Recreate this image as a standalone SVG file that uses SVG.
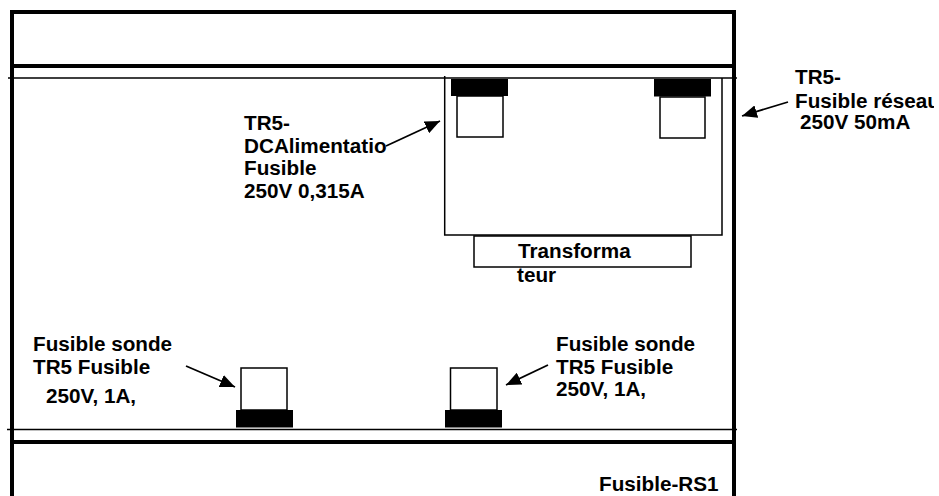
<svg xmlns="http://www.w3.org/2000/svg" width="939" height="496" viewBox="0 0 939 496">
<style>
.t{font-family:"Liberation Sans",Arial,sans-serif;font-weight:700;font-size:20.7px;fill:#000}
.thick{stroke:#000;stroke-width:4;fill:none}
.thin{stroke:#000;stroke-width:1.5;fill:none}
.box{stroke:#000;stroke-width:1.5;fill:#fff}
.arrow{stroke:#000;stroke-width:1.8;fill:none;marker-end:url(#a)}
</style>
<defs>
<marker id="a" viewBox="0 0 15 13" markerUnits="userSpaceOnUse" markerWidth="15" markerHeight="13" refX="15" refY="6.500" orient="auto"><path d="M0 0L15 6.500L0 13Z" fill="#000"/></marker>
<clipPath id="c"><rect x="780" y="60" width="154" height="80"/></clipPath>
</defs>
<rect width="939" height="496" fill="#fff"/>
<g id="frame">
<path class="thick" d="M12 496V12H734V496"/>
<path class="thick" d="M12 66H734M12 442H734"/>
<path class="thin" d="M8 78H737M7 429.500H737"/>
</g>
<g id="transformer">
<path class="thin" d="M444.700 76V235H722V78"/>
</g>
<g id="transformateur">
<rect class="box" x="474" y="236" width="217" height="31"/>
<text class="t" x="518" y="258">Transforma</text>
<text class="t" x="517" y="282">teur</text>
</g>
<g id="fuse-top-left">
<rect class="box" x="457" y="96" width="46" height="41"/>
<rect x="451" y="79" width="57" height="17" fill="#000"/>
</g>
<g id="fuse-top-right">
<rect class="box" x="660" y="97" width="45" height="41"/>
<rect x="654" y="79" width="57" height="17.500" fill="#000"/>
</g>
<g id="fuse-bottom-left">
<rect class="box" x="241" y="368" width="46" height="42"/>
<rect x="236" y="410" width="57" height="17.500" fill="#000"/>
</g>
<g id="fuse-bottom-right">
<rect class="box" x="450.500" y="368" width="46.500" height="42"/>
<rect x="445" y="410" width="57" height="17.500" fill="#000"/>
</g>
<g id="connectors">
<path class="arrow" d="M386 146L440 121"/>
<path class="arrow" d="M788 102L742 116"/>
<path class="arrow" d="M186 366L235 387"/>
<path class="arrow" d="M548 365L506 385"/>
</g>
<g id="label-dc">
<text class="t" x="244" y="130">TR5-</text>
<text class="t" x="244" y="153">DCAlimentatio</text>
<text class="t" x="244" y="175">Fusible</text>
<text class="t" x="244" y="198">250V 0,315A</text>
</g>
<g id="label-reseau" clip-path="url(#c)">
<text class="t" x="795" y="84">TR5-</text>
<text class="t" x="795" y="108">Fusible réseau</text>
<text class="t" x="800" y="129">250V 50mA</text>
</g>
<g id="label-sonde-left">
<text class="t" x="33" y="351">Fusible sonde</text>
<text class="t" x="33" y="374">TR5 Fusible</text>
<text class="t" x="46" y="403">250V, 1A,</text>
</g>
<g id="label-sonde-right">
<text class="t" x="556" y="351">Fusible sonde</text>
<text class="t" x="556" y="374">TR5 Fusible</text>
<text class="t" x="556" y="396">250V, 1A,</text>
</g>
<g id="label-rs1">
<text class="t" x="599" y="491">Fusible-RS1</text>
</g>
</svg>
